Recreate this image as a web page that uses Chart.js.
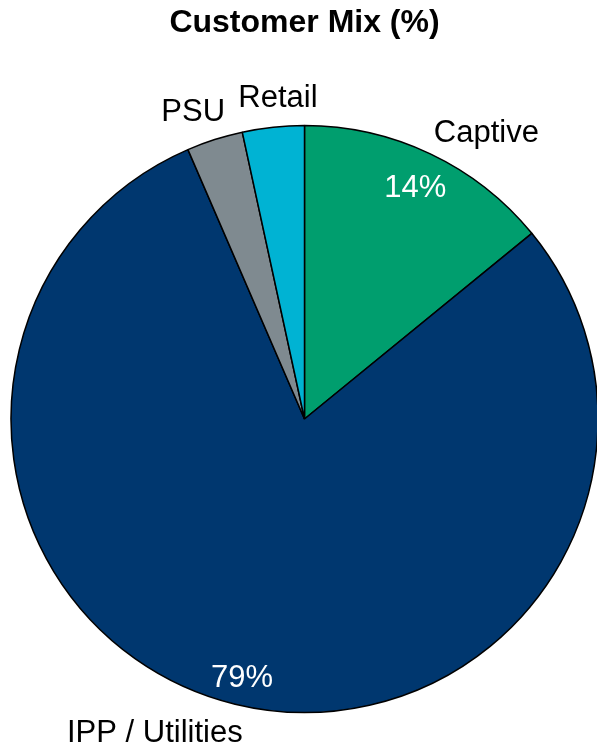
<!DOCTYPE html>
<html>
<head>
<meta charset="utf-8">
<script src="https://cdn.jsdelivr.net/npm/chart.js@4"></script>
<style>
  html, body { margin: 0; padding: 0; background: #ffffff; }
  #wrap { width: 597px; height: 749px; position: relative; }
</style>
</head>
<body>
<div id="wrap"><canvas id="c" width="597" height="749"></canvas></div>
<script>
// ---- data ----
const categories = ["Captive", "IPP / Utilities", "PSU", "Retail"];
const shares = [14.1, 79.4, 3.1, 3.4];
const valueLabels = ["14%", "79%", "", ""];

// ---- styles ----
const sliceColors = ["#009e6e", "#00376f", "#7f8a90", "#00b3d3"];
const FONT = "'Liberation Sans', Arial, sans-serif";
// placement of labels: angle (deg clockwise from top) and distance in radii
const outsidePlacement = [
  { angle: 32.3, dist: 1.16 },
  { angle: 205.6, dist: 1.18 },
  { angle: 340.2, dist: 1.12 },
  { angle: 355.3, dist: 1.106 }
];
const insideDist = [0.88, 0.90, 0.9, 0.9];

const labelPlugin = {
  id: 'sliceLabels',
  afterDatasetsDraw(chart) {
    const ctx = chart.ctx;
    const meta = chart.getDatasetMeta(0);
    ctx.save();
    ctx.font = "31px " + FONT;
    ctx.textAlign = 'center';
    ctx.textBaseline = 'alphabetic';
    const capOff = 0.358 * 31;
    meta.data.forEach((arc, i) => {
      const p = arc.getProps(['x', 'y', 'startAngle', 'endAngle', 'outerRadius'], true);
      if (valueLabels[i]) {
        const mid = (p.startAngle + p.endAngle) / 2;
        const r = p.outerRadius * insideDist[i];
        ctx.fillStyle = '#ffffff';
        ctx.fillText(valueLabels[i], p.x + Math.cos(mid) * r, p.y + Math.sin(mid) * r + capOff);
      }
      const pl = outsidePlacement[i];
      const a = (pl.angle - 90) * Math.PI / 180;
      const rr = p.outerRadius * pl.dist;
      ctx.fillStyle = '#000000';
      ctx.fillText(categories[i], p.x + Math.cos(a) * rr, p.y + Math.sin(a) * rr + capOff);
    });
    ctx.restore();
  }
};

new Chart(document.getElementById('c'), {
  type: 'pie',
  data: {
    labels: categories,
    datasets: [{
      data: shares,
      backgroundColor: sliceColors,
      borderColor: '#000000',
      borderWidth: 1.5,
      radius: 293.5
    }]
  },
  options: {
    responsive: false,
    devicePixelRatio: 1,
    animation: false,
    layout: { padding: { left: 12, right: 0, top: 0, bottom: 34 } },
    plugins: {
      legend: { display: false },
      tooltip: { enabled: false },
      title: {
        display: true,
        text: 'Customer Mix (%)',
        color: '#000000',
        font: { family: FONT, size: 32, weight: 'bold', lineHeight: 1.2 },
        padding: { top: 3.5, bottom: 81.1 }
      }
    }
  },
  plugins: [labelPlugin]
});
</script>
</body>
</html>
